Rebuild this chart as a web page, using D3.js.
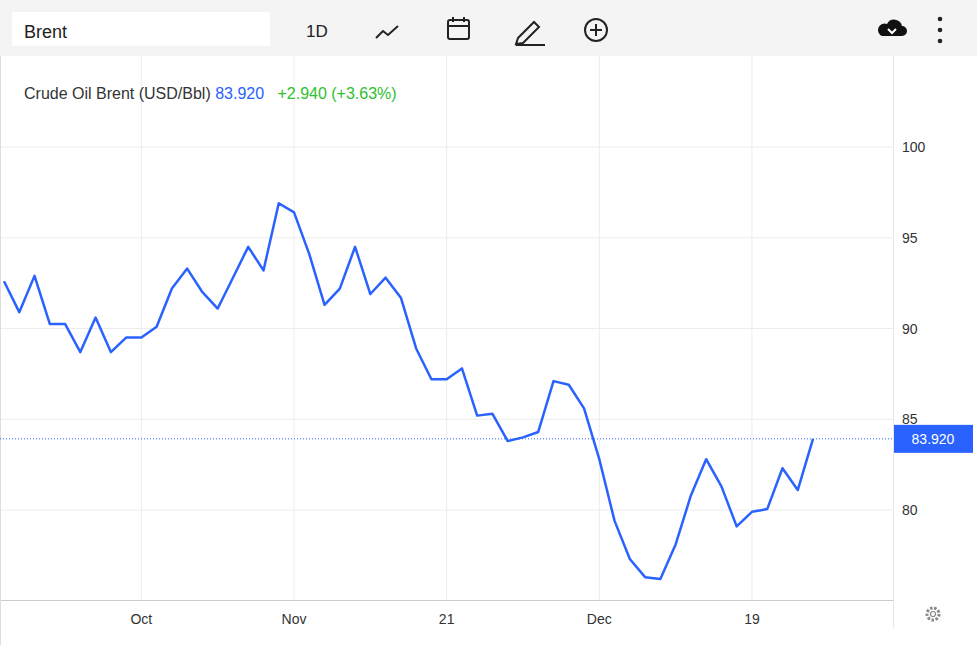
<!DOCTYPE html>
<html><head><meta charset="utf-8">
<script src="https://cdn.jsdelivr.net/npm/d3@7"></script>
<style>body{margin:0;background:#fff;font-family:"Liberation Sans",Arial,sans-serif}</style>
</head><body><svg id="c" width="977" height="645"></svg>
<script>
// values, one per trading day
const prices = [92.6,90.9,92.9,90.25,90.25,88.7,90.6,88.7,89.5,89.5,90.1,92.2,93.3,92.0,91.1,92.8,94.5,93.2,96.9,96.4,
  94.1,91.3,92.2,94.5,91.9,92.8,91.7,88.9,87.2,87.2,87.8,85.2,85.3,83.8,84.0,84.3,87.1,86.9,85.6,82.8,
  79.4,77.3,76.3,76.2,78.1,80.8,82.8,81.3,79.1,79.9,80.05,82.3,81.1,83.92]
const xTicks = [{i:9,label:"Oct"},{i:19,label:"Nov"},{i:29,label:"21"},{i:39,label:"Dec"},{i:49,label:"19"}]
const yTicks = [80,85,90,95,100]
const last = 83.92

const svg = d3.select("#c")
const x = d3.scaleLinear().domain([0,53]).range([4,813])
const y = d3.scaleLinear().domain([80,100]).range([510,147])

// toolbar
svg.append("rect").attr("width",977).attr("height",56).attr("fill","#f4f4f4")
svg.append("rect").attr("x",12).attr("y",12).attr("width",258).attr("height",34).attr("fill","#fff")
svg.append("text").attr("x",24).attr("y",38).attr("font-size",18).attr("fill","#222").text("Brent")
svg.append("text").attr("x",306).attr("y",37).attr("font-size",17).attr("fill","#222").text("1D")
const ic = svg.append("g").attr("stroke","#222").attr("fill","none").attr("stroke-width",2)
ic.append("path").attr("d","M376,38 L383,31 L388,35 L398,26")
ic.append("rect").attr("x",448).attr("y",20).attr("width",21).attr("height",19).attr("rx",2)
ic.append("path").attr("d","M448,26 H469 M453,17 V22 M464,17 V22")
ic.append("path").attr("d","M518,38 L534,22 L539,27 L523,43 L516,44 Z M516,45 H545")
ic.append("circle").attr("cx",596).attr("cy",30).attr("r",11)
ic.append("path").attr("d","M590,30 H602 M596,24 V36")
svg.append("path").attr("d","M882,36 h20 a5,5 0 0 0 0,-10 a8,8 0 0 0 -15,-2 a6,6 0 0 0 -5,12 Z").attr("fill","#111")
svg.append("path").attr("d","M888,29 l4,4 l4,-4").attr("stroke","#fff").attr("stroke-width",2).attr("fill","none")
;[19,30,41].forEach(cy=>svg.append("circle").attr("cx",940).attr("cy",cy).attr("r",2.3).attr("fill","#222"))

// grid
const g = svg.append("g").attr("stroke","#ececec")
yTicks.forEach(v=>g.append("line").attr("x1",0).attr("x2",893).attr("y1",y(v)).attr("y2",y(v)))
xTicks.forEach(t=>g.append("line").attr("x1",x(t.i)).attr("x2",x(t.i)).attr("y1",56).attr("y2",600))
svg.append("line").attr("x1",0).attr("x2",893).attr("y1",600.5).attr("y2",600.5).attr("stroke","#ccc")
svg.append("line").attr("x1",893.5).attr("x2",893.5).attr("y1",56).attr("y2",628).attr("stroke","#e6e6e6")
svg.append("line").attr("x1",0.5).attr("x2",0.5).attr("y1",56).attr("y2",645).attr("stroke","#ddd")

yTicks.forEach(v=>svg.append("text").attr("x",902).attr("y",y(v)+5).attr("font-size",14).attr("fill","#333").text(v))
xTicks.forEach(t=>svg.append("text").attr("x",x(t.i)).attr("y",624).attr("text-anchor","middle").attr("font-size",14).attr("fill","#333").text(t.label))

// last price line
svg.append("line").attr("x1",0).attr("x2",893).attr("y1",y(last)).attr("y2",y(last))
  .attr("stroke","#2962ff").attr("stroke-dasharray","1,2")
svg.append("rect").attr("x",894).attr("y",y(last)-14).attr("width",79).attr("height",28).attr("fill","#2962ff")
svg.append("text").attr("x",933).attr("y",y(last)+5).attr("text-anchor","middle").attr("font-size",14).attr("fill","#fff").text(last.toFixed(3))

svg.append("path").datum(prices)
  .attr("d",d3.line().x((d,i)=>x(i)).y(d=>y(d)))
  .attr("fill","none").attr("stroke","#2962ff").attr("stroke-width",2.5).attr("stroke-linejoin","round")

// legend
const lg = svg.append("text").attr("x",24).attr("y",99).attr("font-size",16).attr("xml:space","preserve")
lg.append("tspan").attr("fill","#333").text("Crude Oil Brent (USD/Bbl) ")
lg.append("tspan").attr("fill","#2962ff").text(last.toFixed(3)+"  ")
lg.append("tspan").attr("fill","#2ec02e").text(" +2.940 (+3.63%)")

// gear
svg.append("circle").attr("cx",933).attr("cy",614).attr("r",6).attr("fill","none").attr("stroke","#888").attr("stroke-width",3).attr("stroke-dasharray","2.5,1.6")
svg.append("circle").attr("cx",933).attr("cy",614).attr("r",2.5).attr("fill","none").attr("stroke","#888").attr("stroke-width",1.2)
</script></body></html>
